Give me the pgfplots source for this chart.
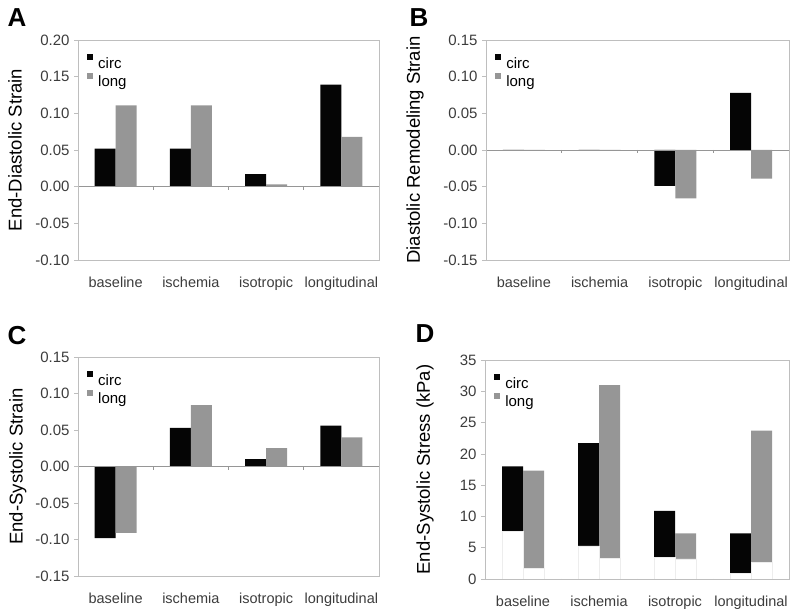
\documentclass[border=0pt]{standalone}
\usepackage{pgfplots}
\pgfplotsset{compat=1.18}
\usepackage{fontspec}
\setmainfont{Liberation Sans}
\definecolor{barblack}{RGB}{5,5,5}
\definecolor{bargray}{RGB}{150,150,150}
\definecolor{framegray}{RGB}{190,190,190}
\definecolor{zerogray}{RGB}{150,150,150}
\definecolor{tickgray}{RGB}{60,60,60}
\pgfplotsset{
  panel/.style={
    scale only axis,
    anchor=south west,
    ybar,
    xmin=-0.5, xmax=3.5,
    xtick={0,1,2,3},
    xticklabels={baseline,ischemia,isotropic,longitudinal},
    x tick style={draw=none},
    xticklabel style={yshift=-9pt, font=\fontsize{14.5}{16}\selectfont, text=tickgray},
    yticklabel style={font=\fontsize{15}{16}\selectfont, text=tickgray, xshift=-1pt},
    y tick style={draw=framegray, line width=0.6pt},
    tick align=outside,
    major tick length=4pt,
    axis line style={draw=framegray, line width=0.8pt},
    ytick pos=left,
    /pgf/number format/assume math mode=true,
    every axis y label/.style={at={(axis description cs:-0.21,0.5)}, rotate=90, anchor=center, font=\fontsize{18.5}{20}\selectfont},
    legend style={at={(0.03,0.935)}, anchor=north west, draw=none, fill=none,
      font=\fontsize{15}{16}\selectfont, row sep=1pt, inner sep=0pt,
      /tikz/every odd column/.append style={column sep=3pt}},
    legend cell align=left,
    legend image code/.code={\path[#1,draw=none] (0pt,3pt) rectangle (6pt,9pt);},
    bar width=21pt,
    axis on top,
  },
  decimals/.style={/pgf/number format/.cd, fixed, fixed zerofill, precision=2},
}
\newcommand{\zeroline}[1]{%
  \draw[zerogray, line width=0.8pt] (axis cs:-0.5,#1) -- (axis cs:3.5,#1);
  \draw[zerogray, line width=0.6pt] (axis cs:0.5,#1) -- ([yshift=-3.5pt]axis cs:0.5,#1);
  \draw[zerogray, line width=0.6pt] (axis cs:1.5,#1) -- ([yshift=-3.5pt]axis cs:1.5,#1);
  \draw[zerogray, line width=0.6pt] (axis cs:2.5,#1) -- ([yshift=-3.5pt]axis cs:2.5,#1);
}
\begin{document}
\begin{tikzpicture}
\useasboundingbox (0,0) rectangle (800pt,612pt);
% Panel labels
\node[font=\fontsize{26}{26}\selectfont\bfseries] at (17pt,594pt) {A};
\node[font=\fontsize{26}{26}\selectfont\bfseries] at (419pt,594pt) {B};
\node[font=\fontsize{26}{26}\selectfont\bfseries] at (17pt,276pt) {C};
\node[font=\fontsize{26}{26}\selectfont\bfseries] at (425pt,278pt) {D};

% A
\begin{axis}[panel, at={(78pt,352pt)}, width=301pt, height=220pt,
  ymin=-0.10, ymax=0.20, ytick={-0.10,-0.05,0,0.05,0.10,0.15,0.20},
  yticklabel style={decimals},
  every axis y label/.append style={at={(axis description cs:-0.209,0.5)}},
  ylabel={End-Diastolic Strain}]
\addplot[fill=barblack, draw=none, bar shift=-10.5pt] coordinates {(0,0.052) (1,0.052) (2,0.017) (3,0.139)};
\addplot[fill=bargray, draw=none, bar shift=10.5pt] coordinates {(0,0.111) (1,0.111) (2,0.003) (3,0.068)};
\legend{circ,long}
\zeroline{0}
\end{axis}

% B
\begin{axis}[panel, at={(486pt,352pt)}, width=303pt, height=220pt,
  ymin=-0.15, ymax=0.15, ytick={-0.15,-0.10,-0.05,0,0.05,0.10,0.15},
  yticklabel style={decimals},
  every axis y label/.append style={at={(axis description cs:-0.234,0.5)}},
  ylabel={Diastolic Remodeling Strain}]
\addplot[fill=barblack, draw=none, bar shift=-10.5pt] coordinates {(0,0) (1,0) (2,-0.049) (3,0.078)};
\addplot[fill=bargray, draw=none, bar shift=10.5pt] coordinates {(0,0) (1,0) (2,-0.066) (3,-0.039)};
\legend{circ,long}
\zeroline{0}
\end{axis}

% C
\begin{axis}[panel, at={(78pt,36pt)}, width=301pt, height=219pt,
  ymin=-0.15, ymax=0.15, ytick={-0.15,-0.10,-0.05,0,0.05,0.10,0.15},
  yticklabel style={decimals},
  every axis y label/.append style={at={(axis description cs:-0.20,0.5)}},
  ylabel={End-Systolic Strain}]
\addplot[fill=barblack, draw=none, bar shift=-10.5pt] coordinates {(0,-0.098) (1,0.053) (2,0.010) (3,0.056)};
\addplot[fill=bargray, draw=none, bar shift=10.5pt] coordinates {(0,-0.091) (1,0.084) (2,0.025) (3,0.040)};
\legend{circ,long}
\zeroline{0}
\end{axis}

% D
\begin{axis}[panel, at={(485pt,33pt)}, width=304pt, height=219pt,
  ymin=0, ymax=35, ytick={0,5,10,15,20,25,30,35},
  every axis y label/.append style={at={(axis description cs:-0.197,0.5)}},
  ylabel={End-Systolic Stress (kPa)}]
\addplot[fill=barblack, draw=none, bar shift=-10.5pt] coordinates {(0,18.0) (1,21.7) (2,10.9) (3,7.3)};
\addplot[fill=bargray, draw=none, bar shift=10.5pt] coordinates {(0,17.3) (1,31.0) (2,7.3) (3,23.7)};
\legend{circ,long}
\addplot[fill=white, draw=black!7, line width=0.4pt, bar shift=-10.5pt, forget plot] coordinates {(0,7.6) (1,5.3) (2,3.5) (3,0.95)};
\addplot[fill=white, draw=black!7, line width=0.4pt, bar shift=10.5pt, forget plot] coordinates {(0,1.65) (1,3.3) (2,3.2) (3,2.7)};
\zeroline{0}
\end{axis}
\end{tikzpicture}
\end{document}
